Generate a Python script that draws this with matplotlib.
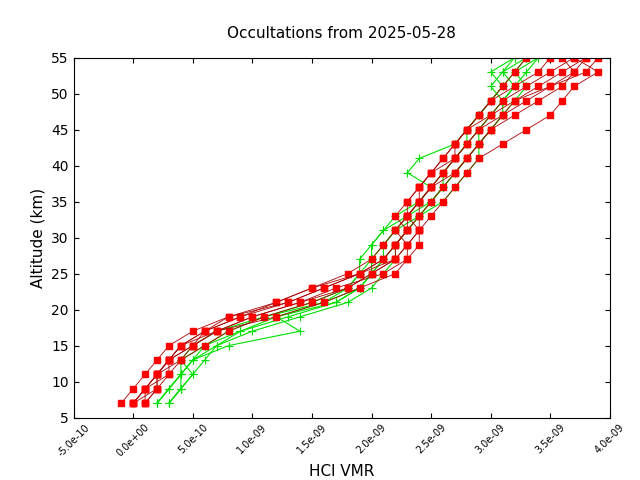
import matplotlib
matplotlib.use("Agg")
import matplotlib.pyplot as plt
import numpy as np

# altitude grid (km) and HCl VMR profiles in units of 1e-10
altitudes = [7, 9, 11, 13, 15, 17, 19, 21, 23, 25, 27, 29, 31, 33, 35, 37, 39, 41, 43, 45, 47, 49, 51, 53, 55]

green_profiles = [
    [2, 3, 4, 5, 7, 9, 13, 17, 19, 20, 20, 21, 22, 24, 25, 26, 27, 28, 29, 29, 30, 31, 30, 31, 32],
    [3, 4, 4, 5, 8, 14, 12, 16, 19, 20, 21, 22, 23, 24, 25, 26, 26, 27, 28, 29, 30, 31, 32, 33, 34],
    [2, 3, 4, 5, 6, 8, 11, 15, 18, 19, 20, 20, 21, 23, 25, 26, 27, 28, 29, 30, 31, 31, 32, 31, 33],
    [3, 4, 5, 4, 6, 9, 12, 17, 19, 20, 21, 21, 22, 23, 24, 25, 23, 24, 27, 28, 29, 30, 31, 30, 32],
    [3, 4, 5, 6, 7, 10, 14, 18, 20, 21, 22, 22, 23, 24, 26, 27, 28, 29, 29, 30, 31, 32, 33, 32, 34],
    [2, 3, 4, 4, 5, 7, 11, 16, 18, 19, 19, 20, 21, 22, 24, 25, 26, 27, 28, 28, 29, 30, 31, 32, 33],
]

red_profiles = [
    [0, 1, 2, 3, 4, 6, 9, 13, 16, 19, 21, 22, 23, 23, 24, 25, 26, 27, 28, 29, 30, 31, 33, 35, 37],
    [-1, 0, 1, 2, 3, 5, 8, 12, 15, 18, 20, 21, 22, 23, 24, 24, 25, 26, 27, 28, 30, 32, 35, 38, 39],
    [1, 2, 3, 4, 6, 8, 11, 15, 18, 20, 22, 23, 24, 24, 25, 26, 27, 28, 29, 30, 32, 34, 36, 37, 36],
    [0, 1, 2, 3, 5, 7, 10, 14, 17, 21, 23, 24, 24, 23, 23, 24, 25, 27, 28, 29, 31, 33, 35, 37, 38],
    [0, 2, 2, 4, 5, 7, 12, 16, 19, 22, 23, 23, 24, 25, 26, 27, 28, 29, 31, 33, 35, 36, 37, 39, 37],
    [1, 1, 2, 3, 4, 6, 9, 12, 15, 19, 22, 23, 22, 23, 24, 25, 26, 27, 27, 28, 29, 30, 31, 32, 33],
    [0, 1, 3, 3, 4, 7, 10, 14, 18, 20, 22, 22, 23, 22, 23, 24, 25, 26, 27, 28, 29, 30, 32, 34, 35],
    [1, 2, 2, 3, 5, 6, 8, 13, 16, 19, 21, 22, 23, 24, 24, 25, 27, 28, 29, 30, 31, 32, 34, 36, 38],
]

fig, ax = plt.subplots(figsize=(6.4, 4.8), dpi=100)

for prof in green_profiles:
    ax.plot(np.array(prof) * 1e-10, altitudes, color="#00e000", lw=0.8,
            marker="+", ms=6, mew=0.8)
for prof in red_profiles:
    ax.plot(np.array(prof) * 1e-10, altitudes, color="#aa0000", lw=0.6,
            marker="s", ms=5, mfc="red", mec="red")

ax.set_xlim(-5e-10, 4e-9)
ax.set_ylim(5, 55)
xt = np.arange(-5e-10, 4.01e-9, 5e-10)
ax.set_xticks(xt)
ax.set_xticklabels(["%.1e" % v if abs(v) > 1e-20 else "0.0e+00" for v in xt],
                   rotation=45, fontsize=7)
ax.set_yticks(np.arange(5, 56, 5))
ax.tick_params(direction="in", top=True, right=True, labelsize=10)
ax.tick_params(axis="x", labelsize=7)
ax.set_xlabel("HCl VMR", fontsize=11)
ax.set_ylabel("Altitude (km)", fontsize=11)
ax.set_title("Occultations from 2025-05-28", fontsize=11, pad=14)

fig.subplots_adjust(left=0.115, right=0.953, top=0.88, bottom=0.13)
fig.savefig("out.png")
